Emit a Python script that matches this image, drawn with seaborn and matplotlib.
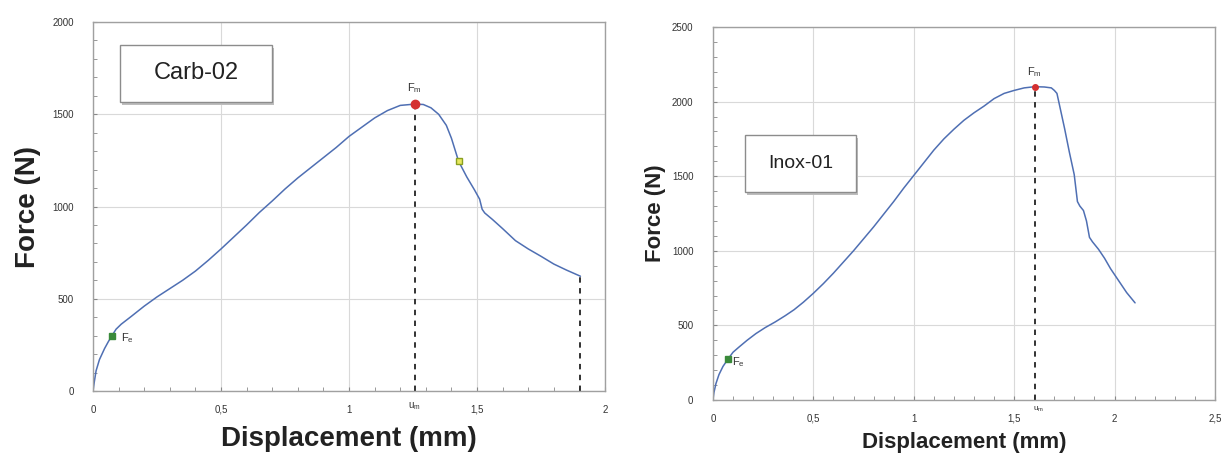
import numpy as np
import pandas as pd
import matplotlib
matplotlib.use("Agg")
import matplotlib.pyplot as plt
import seaborn as sns
from matplotlib.patches import Rectangle
from matplotlib.ticker import MultipleLocator, FuncFormatter

# Carb-02 curve (mm, N)
carb_disp = [0.0, 0.005, 0.012, 0.025, 0.045, 0.06, 0.074, 0.09, 0.11, 0.15, 0.2,
             0.25, 0.3, 0.35, 0.4, 0.45, 0.5, 0.55, 0.6, 0.65, 0.7, 0.75, 0.8,
             0.85, 0.9, 0.95, 1.0, 1.05, 1.1, 1.15, 1.2, 1.256, 1.29, 1.32, 1.35,
             1.38, 1.40, 1.428, 1.46, 1.49, 1.51, 1.52, 1.53, 1.56, 1.6, 1.65,
             1.7, 1.75, 1.8, 1.85, 1.904]
carb_force = [0, 50, 110, 170, 230, 268, 300, 335, 362, 405, 460,
              510, 555, 600, 650, 708, 770, 835, 900, 968, 1030, 1095, 1155,
              1210, 1265, 1320, 1380, 1430, 1480, 1520, 1548, 1555, 1553, 1535, 1500,
              1440, 1370, 1245, 1160, 1090, 1040, 985, 965, 930, 880, 815,
              770, 730, 688, 655, 622]

# Inox-01 curve (mm, N)
inox_disp = [0.0, 0.005, 0.015, 0.03, 0.05, 0.076, 0.1, 0.13, 0.17, 0.214, 0.26,
             0.31, 0.36, 0.404, 0.45, 0.5, 0.55, 0.6, 0.65, 0.7, 0.75, 0.8, 0.85,
             0.9, 0.95, 1.0, 1.05, 1.1, 1.15, 1.2, 1.25, 1.3, 1.35, 1.4, 1.45, 1.5,
             1.55, 1.603, 1.65, 1.685, 1.70, 1.713, 1.73, 1.751, 1.775, 1.799,
             1.815, 1.827, 1.845, 1.86, 1.875, 1.89, 1.92, 1.95, 1.98, 2.02,
             2.06, 2.102]
inox_force = [0, 50, 110, 170, 225, 276, 320, 355, 400, 445, 485,
              523, 565, 605, 655, 715, 780, 850, 925, 1000, 1080, 1160, 1245,
              1330, 1420, 1505, 1590, 1675, 1750, 1815, 1875, 1925, 1970, 2020, 2055, 2075,
              2092, 2100, 2098, 2092, 2075, 2055, 1950, 1820, 1660, 1511,
              1330, 1300, 1270, 1200, 1090, 1060, 1010, 950, 880, 800,
              720, 651]

# characteristic points
carb_fe = (0.074, 300)
carb_fm = (1.256, 1555)
carb_mid = (1.428, 1245)
carb_end = (1.904, 622)
inox_fe = (0.076, 276)
inox_fm = (1.603, 2100)

carb = pd.DataFrame({"disp": carb_disp, "force": carb_force})
inox = pd.DataFrame({"disp": inox_disp, "force": inox_force})

sns.set_style("whitegrid")
plt.rcParams["font.family"] = ["Liberation Sans", "DejaVu Sans"]
plt.rcParams["mathtext.default"] = "regular"

LINE = "#4f6fb3"
GRID = "#d9d9d9"

fig = plt.figure(figsize=(12.29, 4.54), dpi=100)
ax1 = fig.add_axes([0.0757, 0.1388, 0.4166, 0.8127])
ax2 = fig.add_axes([0.5801, 0.1190, 0.4085, 0.8215])

comma = FuncFormatter(lambda v, p: ("%g" % v).replace(".", ","))


def style(ax, xmax, ymax, label_size, xpad, ypad):
    ax.set_xlim(0, xmax)
    ax.set_ylim(0, ymax)
    ax.xaxis.set_major_locator(MultipleLocator(0.5))
    ax.xaxis.set_minor_locator(MultipleLocator(0.1))
    ax.yaxis.set_major_locator(MultipleLocator(500))
    ax.yaxis.set_minor_locator(MultipleLocator(100))
    ax.xaxis.set_major_formatter(comma)
    ax.grid(True, which="major", color=GRID, linewidth=0.8)
    ax.grid(False, which="minor")
    ax.tick_params(which="both", direction="in", length=3, color="#888888",
                   labelsize=7, labelcolor="#333333", bottom=True, left=True)
    ax.tick_params(axis="x", pad=10)
    ax.tick_params(axis="y", pad=14)
    for s in ax.spines.values():
        s.set_color("#a0a0a0")
        s.set_linewidth(1.0)
    ax.set_xlabel("Displacement (mm)", fontsize=label_size, fontweight="bold",
                  color="#222222", labelpad=xpad)
    ax.set_ylabel("Force (N)", fontsize=label_size, fontweight="bold",
                  color="#222222", labelpad=ypad)


def tag(ax, text, x0, y0, x1, y1, size):
    # shadowed box like the original
    ax.add_patch(Rectangle((x0 + 0.004, y0 - 0.008), x1 - x0, y1 - y0,
                           transform=ax.transAxes, fc="#bdbdbd", ec="none", zorder=4))
    ax.add_patch(Rectangle((x0, y0), x1 - x0, y1 - y0, transform=ax.transAxes,
                           fc="white", ec="#8c8c8c", lw=1.0, zorder=5))
    ax.text((x0 + x1) / 2, (y0 + y1) / 2, text, transform=ax.transAxes,
            fontsize=size, va="center", ha="center", color="#222222", zorder=6)


# left panel: Carb-02
sns.lineplot(data=carb, x="disp", y="force", ax=ax1, color=LINE, linewidth=1.1,
             sort=False)
style(ax1, 2, 2000, 20, 8, 8)
for px, py in [carb_fm, carb_end]:
    ax1.plot([px, px], [0, py], color="#222222", linestyle=(0, (3, 3)), linewidth=1.3)
ax1.plot(*carb_fe, marker="s", color="#3a8a3a", markersize=5)
ax1.plot(*carb_fm, marker="o", color="#d43030", markersize=6)
ax1.plot(*carb_mid, marker="s", mfc="#e8e860", mec="#8aa020", markersize=5)
ax1.text(carb_fe[0] + 0.035, carb_fe[1] - 30, "F$_e$", fontsize=8, color="#333333")
ax1.text(carb_fm[0], carb_fm[1] + 70, "F$_m$", fontsize=8, color="#333333", ha="center")
ax1.text(carb_fm[0], -95, "u$_m$", fontsize=7, color="#333333", ha="center")
tag(ax1, "Carb-02", 0.053, 0.783, 0.35, 0.938, 17)

# right panel: Inox-01
sns.lineplot(data=inox, x="disp", y="force", ax=ax2, color=LINE, linewidth=1.1,
             sort=False)
style(ax2, 2.5, 2500, 16, 6, 4)
ax2.plot([inox_fm[0], inox_fm[0]], [0, inox_fm[1]], color="#222222",
         linestyle=(0, (3, 3)), linewidth=1.3)
ax2.plot(*inox_fe, marker="s", color="#3a8a3a", markersize=4)
ax2.plot(*inox_fm, marker="o", color="#d43030", markersize=4)
ax2.text(inox_fe[0] + 0.02, inox_fe[1] - 40, "F$_e$", fontsize=8, color="#333333")
ax2.text(inox_fm[0], inox_fm[1] + 80, "F$_m$", fontsize=8, color="#333333", ha="center")
ax2.text(inox_fm[0] + 0.02, -75, "u$_m$", fontsize=6, color="#333333", ha="center")
tag(ax2, "Inox-01", 0.064, 0.558, 0.285, 0.71, 14)

fig.savefig("out.png", dpi=100)
